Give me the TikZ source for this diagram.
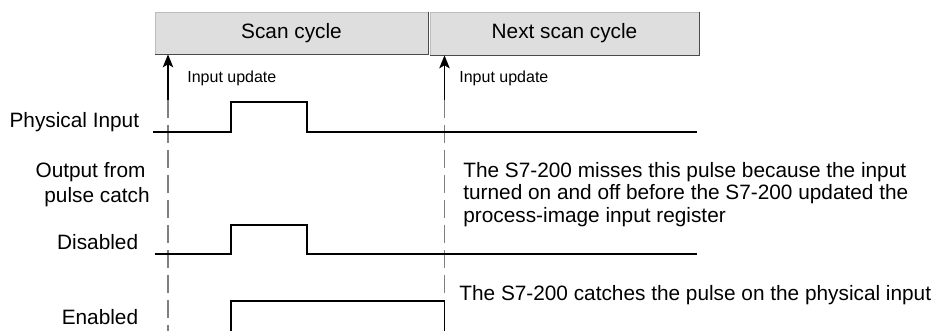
\documentclass[tikz,border=0pt]{standalone}
\usepackage{fontspec}
\setmainfont{Liberation Sans}
\usetikzlibrary{arrows.meta}
\definecolor{hdrfill}{HTML}{DEDEDE}
\definecolor{hdredge}{HTML}{4A4A4A}
\definecolor{dashgray}{HTML}{808080}
\begin{document}
\begin{tikzpicture}[x=0.5pt,y=-0.5pt,
  big/.style={font=\fontsize{10.4}{12}\selectfont, inner sep=0pt, text=black},
  small/.style={font=\fontsize{8}{9}\selectfont, inner sep=0pt, text=black},
  hdr/.style={big, fill=hdrfill, draw=hdrfill!85!black, line width=0.3pt, inner sep=0pt},
  hdrline/.style={draw=hdredge, line width=0.7pt},
  sig/.style={draw=black, line width=0.7pt},
  upd/.style={draw=black, line width=0.8pt, -{Stealth[length=6.5pt,width=5.2pt,inset=1.5pt]}},
  guide/.style={draw=dashgray, line width=0.6pt, dash pattern=on 9pt off 3.5pt},
]
\useasboundingbox (0,0) rectangle (934,331);

% header boxes
\node[hdr, minimum width=136.5pt, minimum height=21pt] (box1) at (291.5,33) {Scan cycle};
\node[hdr, minimum width=134.5pt, minimum height=21.5pt] (box2) at (564.5,33.5) {Next scan cycle};
\draw[hdrline] (box1.north east) -- (box1.south east) -- (box1.south west);
\draw[hdrline] (box2.north east) -- (box2.south east) -- (box2.south west);

% input update markers
\coordinate (a1) at (168,100);
\coordinate (a2) at (444.5,100);
\coordinate (b1) at (168,331);
\coordinate (b2) at (444.5,331);
\draw[upd] (a1) -- (a1 |- box1.south);
\draw[upd] (a2) -- (a2 |- box2.south);
\draw[guide] (a1) -- (b1);
\draw[guide] (a2) -- (b2);
\node[small, anchor=base west] (iu1) at (187,82.7) {Input update};
\node[small, anchor=base west] (iu2) at (459,82.7) {Input update};

% left labels
\node[big, anchor=base east] (lphys) at (139.5,127.7) {Physical Input};
\node[big, anchor=base] (lout1) at (90.5,177.3) {Output from};
\node[big, anchor=base] (lout2) at (97,202.7) {pulse catch};
\node[big, anchor=base east] (ldis) at (138.5,250) {Disabled};
\node[big, anchor=base east] (lena) at (138.5,325) {Enabled};

% waveforms
\draw[sig] (153,132) -- (231,132) -- (231,102) -- (307,102) -- (307,132) -- (697,132);
\draw[sig] (155,254) -- (231,254) -- (231,225) -- (307,225) -- (307,254) -- (697,254);
\draw[sig] (231,331) -- (231,301) -- (444.5,301) -- (444.5,331);

% notes
\node[big, anchor=base west] (n1) at (463,177.3) {The S7-200 misses this pulse because the input};
\node[big, anchor=base west] (n2) at (463,199.8) {turned on and off before the S7-200 updated the};
\node[big, anchor=base west] (n3) at (463,222.3) {process-image input register};
\node[big, anchor=base west] (n4) at (459,300.7) {The S7-200 catches the pulse on the physical input};
\end{tikzpicture}
\end{document}
